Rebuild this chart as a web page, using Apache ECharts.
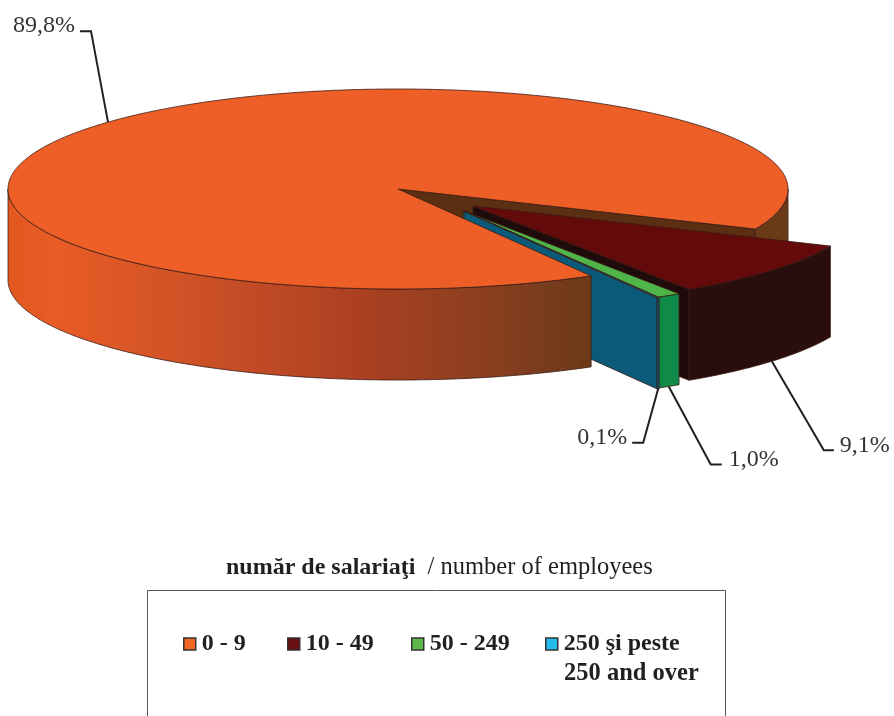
<!DOCTYPE html>
<html>
<head>
<meta charset="utf-8">
<title>numar de salariati</title>
<style>
  html, body { margin: 0; padding: 0; background: #fff; }
  #main { width: 894px; height: 716px; }
</style>
<script src="https://cdn.jsdelivr.net/npm/echarts@6/dist/echarts.min.js"></script>
</head>
<body>
<div id="main"></div>
<script>
// data
var categories = ['0 - 9', '10 - 49', '50 - 249', '250 şi peste'];
var shares = [89.8, 9.1, 1.0, 0.1];
var shareLabels = ['89,8%', '9,1%', '1,0%', '0,1%'];

// pie geometry (screen px), the pie is a flattened circle
var cx = 398, cy = 189, rx = 390, ry = 100, depth = 91;
var firstAngle = 23.6;   // where the 10 - 49 slice starts, clockwise from east
var explode = [[0, 0], [75, 17], [65, 21.5], [66, 22]];

// colours per slice
var legendColors = ['#f26522', '#6b0f12', '#5db84a', '#22bdea'];
var topColors = ['#ee5f27', '#640a0a', '#4fb548', '#1f7fa5'];
var wallColors = [null, '#2a0e0e', '#0f8a48', '#0b5a7a'];
var cutColors = ['#5a2f12', '#1f0a0c', '#0f8a48', '#0b5a7a'];
var outline = '#3a1a14';

// label leader: elbow and stub relative to the anchor, then text position
var leaderElbow = [[-17, -91], [52, 89], [42, 78], [-15, 54]];
var leaderStub = [-11, 10, 11, -11];
var labelGap = [-5, 6, 7, -5];

// angle ranges of the slices, all clockwise from firstAngle
var total = 0;
shares.forEach(function (v) { total += v; });
var ranges = [];
var a0 = firstAngle;
[1, 2, 3, 0].forEach(function (i) {
    var span = shares[i] / total * 360;
    ranges[i] = [a0, a0 + span];
    a0 += span;
});

function pt(i, deg, down) {
    var r = deg * Math.PI / 180;
    return [
        cx + explode[i][0] + rx * Math.cos(r),
        cy + explode[i][1] + ry * Math.sin(r) + (down || 0)
    ];
}

function arc(i, from, to, down) {
    var pts = [];
    var n = Math.max(2, Math.ceil(Math.abs(to - from) * 2));
    for (var k = 0; k <= n; k++) {
        pts.push(pt(i, from + (to - from) * k / n, down));
    }
    return pts;
}

function apex(i, down) {
    return [cx + explode[i][0], cy + explode[i][1] + (down || 0)];
}

function poly(points, fill) {
    return {
        type: 'polygon',
        shape: { points: points },
        style: { fill: fill, stroke: outline, lineWidth: 0.8 }
    };
}

// outer wall between two angles
function wall(i, from, to, fill) {
    return poly(arc(i, from, to, 0).concat(arc(i, to, from, depth)), fill);
}

// radial wall of a cut at one angle
function cut(i, deg, fill) {
    return poly([apex(i), pt(i, deg), pt(i, deg, depth), apex(i, depth)], fill);
}

function topFace(i) {
    return poly([apex(i)].concat(arc(i, ranges[i][0], ranges[i][1])), topColors[i]);
}

var orangeFront = {
    type: 'linear', x: cx - rx, y: 0, x2: 593, y2: 0, global: true,
    colorStops: [
        { offset: 0, color: '#e2581f' },
        { offset: 0.08, color: '#e85c25' },
        { offset: 0.3, color: '#d05227' },
        { offset: 0.6, color: '#ac4022' },
        { offset: 0.8, color: '#8d3f20' },
        { offset: 1, color: '#6a3a18' }
    ]
};

// the parts, in painting order
function renderOrangeBack() {
    return { type: 'group', children: [
        wall(0, 360, ranges[0][1], '#6b3a16'),
        cut(0, ranges[0][1] - 360, cutColors[0])
    ] };
}

function renderOrangeFront() {
    return { type: 'group', children: [
        wall(0, ranges[0][0], 180, orangeFront),
        topFace(0)
    ] };
}

function sliceRenderer(i) {
    return function () {
        return { type: 'group', children: [
            cut(i, ranges[i][1], cutColors[i]),
            wall(i, ranges[i][0], ranges[i][1], wallColors[i]),
            topFace(i)
        ] };
    };
}

function renderLabels() {
    var kids = [];
    shares.forEach(function (v, i) {
        var mid = (ranges[i][0] + ranges[i][1]) / 2;
        var a = pt(i, mid, i === 0 ? 0 : depth);
        var e = [a[0] + leaderElbow[i][0], a[1] + leaderElbow[i][1]];
        var s = [e[0] + leaderStub[i], e[1]];
        kids.push({
            type: 'polyline',
            shape: { points: [a, e, s] },
            style: { fill: 'none', stroke: '#231f20', lineWidth: 2 }
        });
        kids.push({
            type: 'text',
            style: {
                x: s[0] + labelGap[i],
                y: s[1] - 5,
                text: shareLabels[i],
                font: '24px "Liberation Serif"',
                fill: '#333',
                align: leaderStub[i] < 0 ? 'right' : 'left',
                verticalAlign: 'middle'
            }
        });
    });
    return { type: 'group', children: kids };
}

function pieSeries(i, render) {
    return {
        type: 'custom',
        name: categories[i],
        coordinateSystem: 'none',
        silent: true,
        itemStyle: { color: legendColors[i] },
        data: [shares[i]],
        renderItem: render
    };
}

// legend items sit at uneven distances, so one legend per item
var legendLeft = [183, 287, 411, 545];
var legends = categories.map(function (name, i) {
    return {
        data: [name],
        left: legendLeft[i],
        top: 632,
        padding: 0,
        icon: 'rect',
        itemWidth: 12,
        itemHeight: 12,
        itemGap: 0,
        selectedMode: false,
        itemStyle: { borderColor: '#333', borderWidth: 1.5 },
        textStyle: {
            fontFamily: 'Liberation Serif',
            fontWeight: 'bold',
            fontSize: 24,
            color: '#231f20',
            padding: [0, 0, 0, 1]
        }
    };
});

// series are painted one after the other, so their order matters
var series = [
    pieSeries(0, renderOrangeBack),
    pieSeries(1, sliceRenderer(1)),
    pieSeries(2, sliceRenderer(2)),
    pieSeries(3, sliceRenderer(3)),
    pieSeries(0, renderOrangeFront),
    {
        type: 'custom',
        name: 'labels',
        coordinateSystem: 'none',
        silent: true,
        data: [0],
        renderItem: renderLabels
    }
];

var option = {
    backgroundColor: '#fff',
    animation: false,
    legend: legends,
    series: series,
    graphic: [
        {
            type: 'rect',
            z: -1,
            shape: { x: 147.5, y: 590.5, width: 578, height: 140 },
            style: { fill: '#fff', stroke: '#555', lineWidth: 1 }
        },
        {
            type: 'text',
            left: 226,
            top: 555,
            style: {
                text: '{b|număr de salariaţi}{n|  / number of employees}',
                rich: {
                    b: { font: 'bold 24px "Liberation Serif"', fill: '#231f20' },
                    n: { font: '24.5px "Liberation Serif"', fill: '#231f20' }
                }
            }
        },
        {
            type: 'text',
            left: 564,
            top: 661,
            style: {
                text: '250 and over',
                font: 'bold 24.5px "Liberation Serif"',
                fill: '#231f20'
            }
        }
    ]
};

var chart = echarts.init(document.getElementById('main'));
chart.setOption(option);
</script>
</body>
</html>
